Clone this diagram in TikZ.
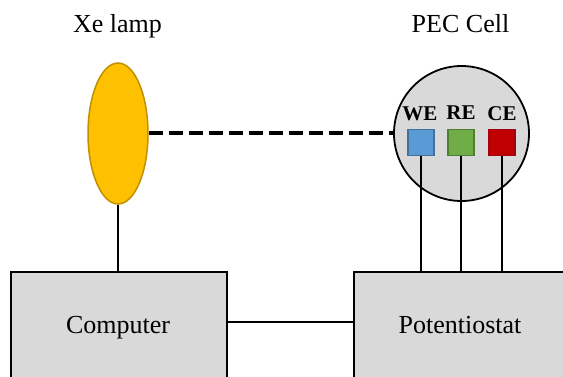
\documentclass[tikz,border=0pt]{standalone}
\usepackage{fontspec}
\setmainfont{Liberation Serif}
\usetikzlibrary{shapes.geometric}
\definecolor{lampfill}{HTML}{FFC000}
\definecolor{lampdraw}{HTML}{BF9000}
\definecolor{boxfill}{HTML}{D9D9D9}
\definecolor{wefill}{HTML}{5B9BD5}
\definecolor{wedraw}{HTML}{41719C}
\definecolor{refill}{HTML}{70AD47}
\definecolor{redraw}{HTML}{507E32}
\definecolor{cefill}{HTML}{C00000}
\definecolor{cedraw}{HTML}{A00018}
\tikzset{
  bigtext/.style={font=\fontsize{26}{30}\selectfont, anchor=base, inner sep=0pt},
  eltext/.style={font=\fontsize{21}{24}\selectfont\bfseries, anchor=base, inner sep=0pt},
  devbox/.style={draw=black, fill=boxfill, line width=2pt, inner sep=0pt},
  electrode/.style={line width=1.6pt, minimum size=26pt, inner sep=0pt},
  wire/.style={line width=2pt, black},
}
\begin{document}
\begin{tikzpicture}[x=1pt,y=-1pt]
\useasboundingbox (0,0) rectangle (563,377);
\clip (0,0) rectangle (563,377);
% titles
\node[bigtext] (lamptitle) at (117.5,33) {Xe lamp};
\node[bigtext] (celltitle) at (460.5,33) {PEC Cell};
% devices
\node[devbox, minimum width=216pt, minimum height=120pt, anchor=north west] (comp) at (10,271) {};
\node[bigtext] (complabel) at (118,333) {Computer};
\node[devbox, minimum width=220pt, minimum height=120pt, anchor=north west] (pot) at (353,271) {};
\node[bigtext] (potlabel) at (460,333) {Potentiostat};
% lamp
\node[ellipse, draw=lampdraw, fill=lampfill, line width=1.5pt, minimum width=60pt, minimum height=141pt, inner sep=0pt] (lamp) at (118,133.5) {};
% cell
\node[circle, draw=black, fill=boxfill, line width=1.8pt, minimum size=135pt, inner sep=0pt] (cell) at (461.5,133.5) {};
% electrodes
\node[electrode, draw=wedraw, fill=wefill] (we) at (421,142.5) {};
\node[electrode, draw=redraw, fill=refill] (re) at (461,142.5) {};
\node[electrode, draw=cedraw, fill=cefill] (ce) at (502,142.5) {};
\node[eltext] (welabel) at (420,121) {WE};
\node[eltext] (relabel) at (461,120) {RE};
\node[eltext] (celabel) at (502,121) {CE};
% connectors
\draw[line width=4pt, dash pattern=on 14pt off 6pt] (lamp.east) -- (cell.west);
\draw[wire] (lamp.south) -- (lamp.south |- comp.north);
\draw[wire] (we.south) -- (we.south |- pot.north);
\draw[wire] (re.south) -- (re.south |- pot.north);
\draw[wire] (ce.south) -- (ce.south |- pot.north);
\draw[wire] (comp.east |- 0,322) coordinate (c1) -- (c1 -| pot.west);
\end{tikzpicture}
\end{document}
